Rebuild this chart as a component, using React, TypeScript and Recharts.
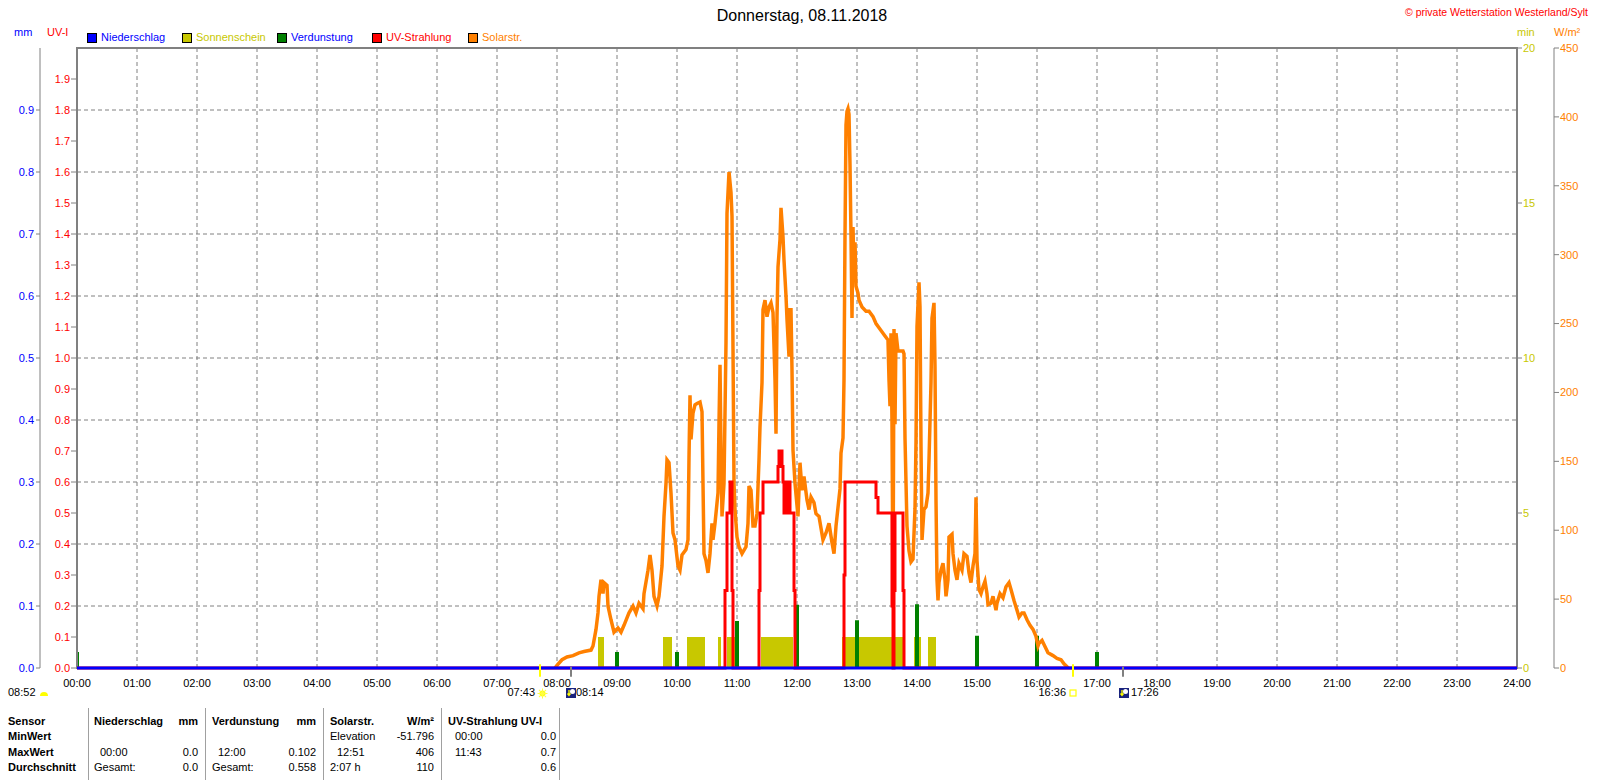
import React from "react";
import {
  Area,
  CartesianGrid,
  ComposedChart,
  Line,
  ReferenceArea,
  ReferenceLine,
  XAxis,
  YAxis,
} from "recharts";

const FONT = '"Liberation Sans", Arial, sans-serif';
const COLORS = {
  rain: "#0000FF",
  sun: "#C8C800",
  evap: "#008000",
  uv: "#FF0000",
  solar: "#FF8000",
  grid: "#808080",
};

// axis ids, named so the inner axis on each side comes first
const UV = "a-uv";
const MM = "b-mm";
const MIN = "c-min";
const W = "d-w";

// axis ticks
const hourTicks = [0, 60, 120, 180, 240, 300, 360, 420, 480, 540, 600, 660, 720, 780, 840, 900, 960, 1020, 1080, 1140, 1200, 1260, 1320, 1380, 1440];
const mmTicks = [0, 0.1, 0.2, 0.3, 0.4, 0.5, 0.6, 0.7, 0.8, 0.9];
const uvTicks = [0, 0.1, 0.2, 0.3, 0.4, 0.5, 0.6, 0.7, 0.8, 0.9, 1.0, 1.1, 1.2, 1.3, 1.4, 1.5, 1.6, 1.7, 1.8, 1.9];
const minTicks = [0, 5, 10, 15, 20];
const wTicks = [0, 50, 100, 150, 200, 250, 300, 350, 400, 450];

// Solarstrahlung, minutes of day -> W/m²
const solarTime = [
  478, 480, 485, 490, 496, 502, 507, 514, 516, 519, 521, 522, 524, 526, 527, 530, 531, 534, 537, 541,
  544, 547, 552, 556, 559, 562, 566, 567, 571, 573, 575, 577, 580, 582, 585, 587, 589, 590, 592, 594,
  596, 598, 601, 603, 605, 609, 611, 612, 613, 614, 616, 618, 620, 623, 625, 626, 627, 629, 631, 633,
  635, 636, 638, 641, 642, 643, 644, 645, 647, 649, 650, 652, 654, 655, 656, 657, 658, 660, 662, 665,
  669, 671, 672, 674, 676, 678, 680, 682, 683, 685, 686, 688, 690, 692, 694, 696, 698, 699, 700, 701,
  703, 704, 706, 707, 709, 710, 712, 713, 714, 715, 716, 718, 721, 723, 725, 727, 730, 732, 734, 737,
  739, 742, 746, 749, 752, 755, 757, 759, 763, 764, 766, 767, 768, 769, 770, 771, 772, 773, 774, 775,
  776, 777, 778, 779, 781, 782, 785, 789, 792, 796, 799, 802, 806, 808, 811, 812, 813, 814, 815, 816,
  817, 818, 819, 821, 822, 826, 827, 828, 830, 832, 834, 836, 838, 839, 840, 842, 843, 844, 845, 847,
  849, 851, 852, 854, 855, 857, 858, 859, 860, 861, 862, 864, 866, 868, 869, 871, 872, 875, 876, 878,
  880, 882, 885, 887, 890, 892, 894, 896, 898, 899, 900, 902, 904, 906, 908, 910, 911, 914, 916, 919,
  920, 923, 926, 929, 932, 934, 937, 940, 942, 945, 947, 950, 953, 956, 959, 961, 962, 965, 967, 971,
  976, 980, 984, 987, 990, 991,
];
const solarValue = [
  0, 2, 6, 8, 9, 11, 12, 13, 16, 28, 40, 52, 64, 54, 62, 60, 45, 35, 26, 29,
  26, 31, 40, 45, 40, 47, 43, 54, 71, 82, 71, 52, 45, 52, 74, 110, 134, 151, 149, 127,
  98, 93, 74, 71, 82, 86, 93, 153, 198, 166, 185, 191, 192, 193, 186, 134, 83, 78, 69, 83,
  105, 93, 105, 127, 178, 220, 158, 110, 134, 236, 330, 360, 345, 328, 231, 134, 115, 95, 88, 83,
  88, 105, 132, 129, 103, 103, 112, 151, 175, 207, 260, 267, 255, 262, 265, 258, 209, 170, 255, 291,
  311, 334, 313, 296, 270, 253, 226, 260, 260, 216, 158, 134, 110, 149, 129, 139, 122, 115, 124, 120,
  112, 110, 93, 98, 105, 91, 83, 103, 130, 156, 167, 209, 314, 394, 404, 406, 402, 365, 314, 254,
  320, 288, 309, 277, 272, 267, 262, 259, 259, 255, 250, 247, 243, 241, 238, 209, 190, 243, 177, 50,
  246, 177, 243, 230, 230, 230, 228, 167, 103, 85, 77, 79, 116, 164, 248, 280, 262, 161, 93, 115,
  117, 127, 151, 207, 254, 265, 219, 122, 64, 49, 62, 71, 76, 64, 52, 64, 95, 97, 83, 71,
  64, 76, 71, 83, 81, 69, 62, 74, 83, 124, 78, 57, 54, 59, 63, 54, 46, 47, 52, 42,
  47, 54, 51, 59, 62, 57, 49, 42, 37, 40, 40, 35, 31, 28, 23, 16, 18, 20, 17, 11,
  9, 7, 6, 3, 1, 0,
];

// UV-Strahlung (UV-I), step values from each time on
const uvTime = [0, 648, 650, 653, 655, 656, 682, 683, 686, 701, 702, 705, 706, 707, 708, 709, 710, 711, 712, 713, 717, 718, 767, 768, 799, 801, 815, 816, 817, 818, 826, 827, 1440];
const uvValue = [0, 0.25, 0.5, 0.6, 0.25, 0, 0.25, 0.5, 0.6, 0.65, 0.7, 0.65, 0.6, 0.5, 0.6, 0.5, 0.6, 0.5, 0.6, 0.5, 0.25, 0, 0.3, 0.6, 0.55, 0.5, 0.2, 0, 0.25, 0.5, 0.25, 0, 0];

// Sonnenschein intervals (minutes of day), 1 min each bar height
const sunStart = [521, 586, 610, 641, 650, 684, 765, 837, 851, 898];
const sunEnd = [527, 595, 628, 644, 660, 716, 828, 844, 859, 900];
const sunLevel = 1;

// Verdunstung, hourly (mm)
const evapTime = [0, 540, 600, 660, 720, 780, 840, 900, 960, 1020];
const evapValue = [0.026, 0.026, 0.026, 0.076, 0.102, 0.077, 0.103, 0.052, 0.052, 0.026];

// Niederschlag (mm)
const rainTime = [0, 1440];
const rainValue = [0, 0];

// sun / moon events (minutes of day)
const sunrise = 463; // 07:43
const sunset = 996; // 16:36
const moonrise = 494; // 08:14
const moonset = 1046; // 17:26

const solarData = solarTime.map((t, i) => ({ t, v: solarValue[i] }));
const uvData = uvTime.map((t, i) => ({ t, v: uvValue[i] }));
const rainData = rainTime.map((t, i) => ({ t, v: rainValue[i] }));
const sunData = [{ t: 0, v: 0 }].concat(
  ...sunStart.map((s, i) => [
    { t: s, v: sunLevel },
    { t: sunEnd[i], v: 0 },
  ])
);
sunData.push({ t: 1440, v: 0 });
const EVAP_HALF = 2; // bar half width in minutes
const evapData = [{ t: 0, v: 0 }].concat(
  ...evapTime.map((t, i) => [
    { t: Math.max(0, t - EVAP_HALF), v: evapValue[i] },
    { t: t + EVAP_HALF, v: 0 },
  ])
);
evapData.push({ t: 1440, v: 0 });

const fmtHour = (m: number) => `${String(m / 60).padStart(2, "0")}:00`;
const fmt1 = (v: number) => v.toFixed(1);

const legend = [
  { label: "Niederschlag", box: COLORS.rain, text: COLORS.rain, x: 87 },
  { label: "Sonnenschein", box: COLORS.sun, text: COLORS.sun, x: 182 },
  { label: "Verdunstung", box: COLORS.evap, text: COLORS.rain, x: 277 },
  { label: "UV-Strahlung", box: COLORS.uv, text: COLORS.uv, x: 372 },
  { label: "Solarstr.", box: COLORS.solar, text: COLORS.solar, x: 468 },
];

type Cell = { text: string; x: number; end?: boolean; bold?: boolean };
const tableRows: Cell[][] = [
  [
    { text: "Sensor", x: 8, bold: true },
    { text: "Niederschlag", x: 94, bold: true },
    { text: "mm", x: 198, end: true, bold: true },
    { text: "Verdunstung", x: 212, bold: true },
    { text: "mm", x: 316, end: true, bold: true },
    { text: "Solarstr.", x: 330, bold: true },
    { text: "W/m²", x: 434, end: true, bold: true },
    { text: "UV-Strahlung UV-I", x: 448, bold: true },
  ],
  [
    { text: "MinWert", x: 8, bold: true },
    { text: "Elevation", x: 330 },
    { text: "-51.796", x: 434, end: true },
    { text: "00:00", x: 455 },
    { text: "0.0", x: 556, end: true },
  ],
  [
    { text: "MaxWert", x: 8, bold: true },
    { text: "00:00", x: 100 },
    { text: "0.0", x: 198, end: true },
    { text: "12:00", x: 218 },
    { text: "0.102", x: 316, end: true },
    { text: "12:51", x: 337 },
    { text: "406", x: 434, end: true },
    { text: "11:43", x: 455 },
    { text: "0.7", x: 556, end: true },
  ],
  [
    { text: "Durchschnitt", x: 8, bold: true },
    { text: "Gesamt:", x: 94 },
    { text: "0.0", x: 198, end: true },
    { text: "Gesamt:", x: 212 },
    { text: "0.558", x: 316, end: true },
    { text: "2:07 h", x: 330 },
    { text: "110", x: 434, end: true },
    { text: "0.6", x: 556, end: true },
  ],
];
const tableRowY = [722, 737, 753, 768];
const tableSeparators = [88, 205, 323, 441, 559];

function Txt({
  x,
  y,
  children,
  color = "#000",
  size = 11,
  bold = false,
  anchor = "start",
}: {
  x: number;
  y: number;
  children: React.ReactNode;
  color?: string;
  size?: number;
  bold?: boolean;
  anchor?: "start" | "end" | "middle";
}) {
  const style: React.CSSProperties = {
    position: "absolute",
    top: y - size * 0.6,
    lineHeight: `${size * 1.2}px`,
    fontSize: size,
    color,
    fontWeight: bold ? 700 : 400,
    whiteSpace: "nowrap",
  };
  if (anchor === "end") style.right = 1600 - x;
  else if (anchor === "middle") {
    style.left = x;
    style.transform = "translateX(-50%)";
  } else style.left = x;
  return <div style={style}>{children}</div>;
}

function SunIcon({ x, y }: { x: number; y: number }) {
  return (
    <svg style={{ position: "absolute", left: x, top: y }} width={11} height={11}>
      <circle cx={5.5} cy={5.5} r={3} fill="#FFFF00" />
      {[0, 45, 90, 135].map((a) => (
        <line key={a} x1={5.5} y1={0.5} x2={5.5} y2={10.5} stroke="#FFFF40" strokeWidth={1} transform={`rotate(${a} 5.5 5.5)`} />
      ))}
    </svg>
  );
}

function HalfSun({ x, y }: { x: number; y: number }) {
  return (
    <svg style={{ position: "absolute", left: x, top: y }} width={10} height={8}>
      <path d="M1 7 A4 4 0 0 1 9 7 Z" fill="#FFFF00" />
    </svg>
  );
}

function SetIcon({ x, y }: { x: number; y: number }) {
  return (
    <svg style={{ position: "absolute", left: x, top: y }} width={8} height={8}>
      <rect x={1} y={1} width={6} height={6} fill="none" stroke="#FFFF00" strokeWidth={1.2} />
    </svg>
  );
}

function MoonIcon({ x, y }: { x: number; y: number }) {
  return (
    <svg style={{ position: "absolute", left: x, top: y }} width={10} height={10}>
      <rect x={0} y={0} width={10} height={10} fill="#1A237E" />
      <circle cx={6.5} cy={3.5} r={2.5} fill="#FFFFFF" />
      <path d="M3 2 V7 M1.5 5.5 L3 7.5 L4.5 5.5" stroke="#FFFF00" strokeWidth={1.3} fill="none" />
    </svg>
  );
}

export default function App() {
  return (
    <div
      style={{
        position: "absolute",
        left: 0,
        top: 0,
        width: 1600,
        height: 780,
        background: "#fff",
        fontFamily: FONT,
        overflow: "hidden",
      }}
    >
      <Txt x={802} y={16} size={16} anchor="middle">
        Donnerstag, 08.11.2018
      </Txt>
      <Txt x={1588} y={12} size={10.5} color={COLORS.uv} anchor="end">
        © private Wetterstation Westerland/Sylt
      </Txt>

      <Txt x={14} y={33} color={COLORS.rain}>mm</Txt>
      <Txt x={47} y={33} color={COLORS.uv}>UV-I</Txt>
      <Txt x={1517} y={33} color={COLORS.sun}>min</Txt>
      <Txt x={1554} y={33} color={COLORS.solar}>W/m²</Txt>

      {legend.map((l) => (
        <React.Fragment key={l.label}>
          <div
            style={{
              position: "absolute",
              left: l.x,
              top: 33,
              width: 8,
              height: 8,
              background: l.box,
              border: "1px solid #000",
            }}
          />
          <Txt x={l.x + 14} y={38} color={l.text}>
            {l.label}
          </Txt>
        </React.Fragment>
      ))}

      <div style={{ position: "absolute", left: 0, top: 0 }}>
        <ComposedChart
          width={1600}
          height={700}
          margin={{ top: 48, right: 0, bottom: 0, left: 0 }}
        >
          <CartesianGrid
            yAxisId={MM}
            stroke={COLORS.grid}
            strokeDasharray="4 3"
          />
          <XAxis
            type="number"
            dataKey="t"
            domain={[0, 1440]}
            ticks={hourTicks}
            tickFormatter={fmtHour}
            interval={0}
            axisLine={false}
            tickLine={false}
            tickSize={0}
            tickMargin={11}
            height={32}
            tick={{ fill: "#000", fontSize: 11, fontFamily: FONT }}
          />
          <YAxis
            yAxisId={UV}
            orientation="left"
            width={37}
            domain={[0, 2]}
            ticks={uvTicks}
            interval={0}
            tickFormatter={fmt1}
            axisLine={false}
            tickLine={{ stroke: COLORS.grid }}
            tickSize={6}
            tickMargin={1}
            tick={{ fill: COLORS.uv, fontSize: 11, fontFamily: FONT }}
          />
          <YAxis
            yAxisId={MM}
            orientation="left"
            width={40}
            domain={[0, 1]}
            ticks={mmTicks}
            interval={0}
            tickFormatter={fmt1}
            axisLine={{ stroke: COLORS.grid }}
            tickLine={{ stroke: COLORS.grid }}
            tickSize={4}
            tickMargin={2}
            tick={{ fill: COLORS.rain, fontSize: 11, fontFamily: FONT }}
          />
          <YAxis
            yAxisId={MIN}
            orientation="right"
            width={37}
            domain={[0, 20]}
            ticks={minTicks}
            interval={0}
            axisLine={false}
            tickLine={{ stroke: COLORS.grid }}
            tickSize={5}
            tickMargin={1}
            tick={{ fill: COLORS.sun, fontSize: 11, fontFamily: FONT }}
          />
          <YAxis
            yAxisId={W}
            orientation="right"
            width={46}
            domain={[0, 450]}
            ticks={wTicks}
            interval={0}
            axisLine={{ stroke: COLORS.grid }}
            tickLine={{ stroke: COLORS.grid }}
            tickSize={5}
            tickMargin={1}
            tick={{ fill: COLORS.solar, fontSize: 11, fontFamily: FONT }}
          />

          <Area
            yAxisId={MIN}
            data={sunData}
            dataKey="v"
            type="stepAfter"
            stroke="none"
            fill={COLORS.sun}
            fillOpacity={1}
            isAnimationActive={false}
          />
          <Area
            yAxisId={MM}
            data={evapData}
            dataKey="v"
            type="stepAfter"
            stroke="none"
            fill={COLORS.evap}
            fillOpacity={1}
            isAnimationActive={false}
          />
          <Line
            yAxisId={W}
            data={solarData}
            dataKey="v"
            type="linear"
            stroke={COLORS.solar}
            strokeWidth={3.5}
            dot={false}
            isAnimationActive={false}
          />
          <Line
            yAxisId={UV}
            data={uvData}
            dataKey="v"
            type="stepAfter"
            stroke={COLORS.uv}
            strokeWidth={3}
            dot={false}
            isAnimationActive={false}
          />
          <Line
            yAxisId={MM}
            data={rainData}
            dataKey="v"
            type="linear"
            stroke={COLORS.rain}
            strokeWidth={3}
            dot={false}
            isAnimationActive={false}
          />

          <ReferenceArea
            yAxisId={MM}
            x1={0}
            x2={1440}
            y1={0}
            y2={1}
            fill="none"
            stroke={COLORS.grid}
            strokeWidth={2}
          />
          {[sunrise, sunset].map((t) => (
            <ReferenceLine
              key={t}
              yAxisId={MM}
              segment={[
                { x: t, y: 0.006 },
                { x: t, y: -0.014 },
              ]}
              stroke="#FFFF00"
              strokeWidth={2}
              ifOverflow="visible"
            />
          ))}
          {[moonrise, moonset].map((t) => (
            <ReferenceLine
              key={t}
              yAxisId={MM}
              segment={[
                { x: t, y: 0.002 },
                { x: t, y: -0.014 },
              ]}
              stroke={COLORS.grid}
              strokeWidth={2}
              ifOverflow="visible"
            />
          ))}
        </ComposedChart>
      </div>

      <Txt x={8} y={693}>08:52</Txt>
      <HalfSun x={39} y={689} />
      <Txt x={535} y={693} anchor="end">07:43</Txt>
      <SunIcon x={537} y={688} />
      <MoonIcon x={566} y={688} />
      <Txt x={576} y={693}>08:14</Txt>
      <Txt x={1066} y={693} anchor="end">16:36</Txt>
      <SetIcon x={1069} y={689} />
      <MoonIcon x={1119} y={688} />
      <Txt x={1131} y={693}>17:26</Txt>

      {tableSeparators.map((x) => (
        <div
          key={x}
          style={{ position: "absolute", left: x, top: 708, width: 1, height: 72, background: "#A0A0A0" }}
        />
      ))}
      {tableRows.map((row, r) =>
        row.map((c, i) => (
          <Txt key={`${r}-${i}`} x={c.x} y={tableRowY[r]} bold={c.bold} anchor={c.end ? "end" : "start"}>
            {c.text}
          </Txt>
        ))
      )}
    </div>
  );
}
